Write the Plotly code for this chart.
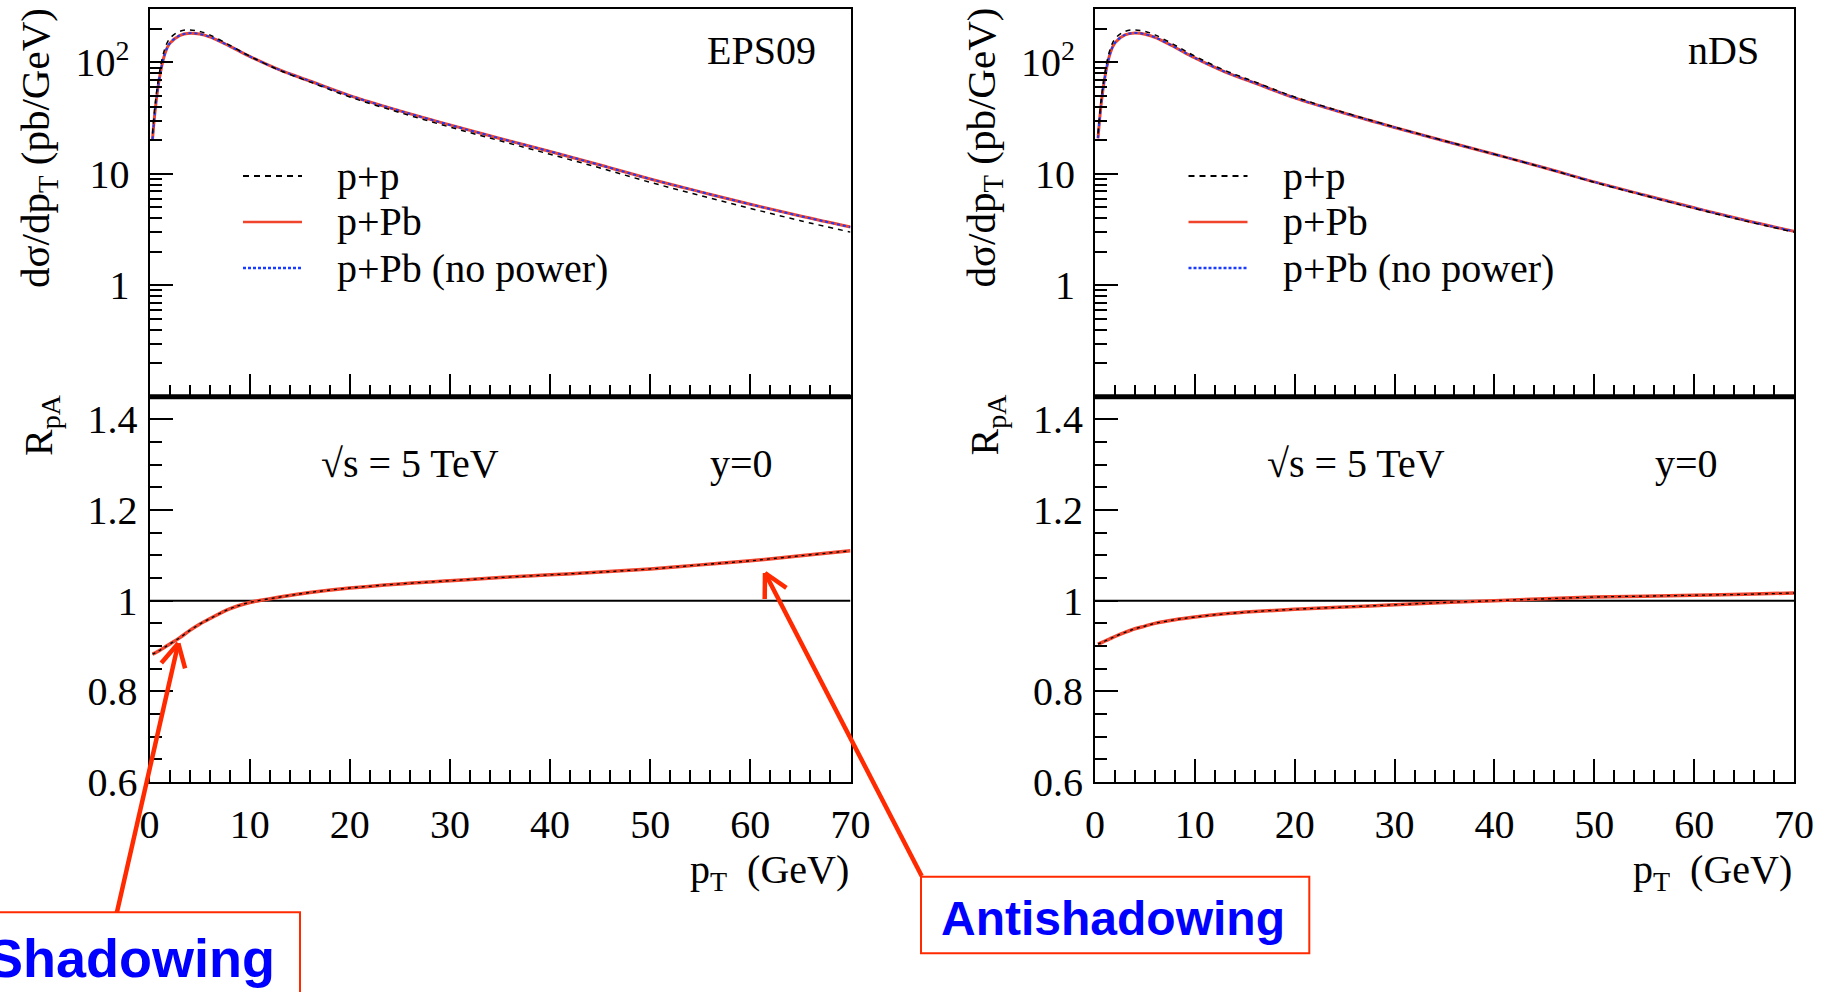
import math
import plotly.graph_objects as go

# ---------------- data ----------------
pt = [0.3, 0.6, 1.0, 1.5, 2, 3, 4, 5, 6, 8, 10, 13, 16, 20, 25, 30, 35, 40, 45, 50, 55, 60, 65, 70]

pp = [23, 45, 82, 130, 163, 190, 196, 190, 177, 143, 114, 85, 67, 49, 35.5, 26.3,
      19.8, 15.0, 11.3, 8.4, 6.4, 4.9, 3.8, 3.0]

ppb_eps09 = [20.3, 39.8, 73.0, 116.6, 147.4, 174.4, 183.1, 180.1, 169.9, 140.4, 113.5, 85.7,
             68.2, 50.4, 36.8, 27.5, 20.8, 15.9, 12.0, 9.0, 6.9, 5.33, 4.18, 3.33]
ppb_eps09_nopow = [20.4, 39.9, 73.1, 116.7, 147.5, 174.5, 183.2, 180.1, 169.9, 140.4, 113.5, 85.7,
                   68.2, 50.4, 36.8, 27.5, 20.8, 15.9, 12.0, 9.0, 6.9, 5.33, 4.18, 3.33]
ppb_nds = [20.8, 40.8, 74.7, 119.1, 150.1, 176.7, 183.8, 179.4, 168.2, 137.0, 109.9, 82.5,
           65.4, 48.1, 35.0, 26.1, 19.7, 15.0, 11.35, 8.47, 6.46, 4.96, 3.85, 3.05]
ppb_nds_nopow = [20.9, 40.9, 74.8, 119.2, 150.2, 176.7, 183.8, 179.4, 168.2, 137.0, 109.9, 82.5,
                 65.4, 48.1, 35.0, 26.1, 19.7, 15.0, 11.35, 8.47, 6.46, 4.96, 3.85, 3.05]

r_eps09 = [0.882, 0.885, 0.890, 0.897, 0.904, 0.918, 0.934, 0.948, 0.960, 0.982, 0.996, 1.008,
           1.018, 1.028, 1.037, 1.044, 1.051, 1.057, 1.063, 1.070, 1.079, 1.088, 1.099, 1.110]
r_nds = [0.904, 0.907, 0.911, 0.916, 0.921, 0.930, 0.938, 0.944, 0.950, 0.958, 0.964, 0.971,
         0.976, 0.981, 0.986, 0.991, 0.996, 1.000, 1.004, 1.008, 1.010, 1.012, 1.014, 1.017]

x_ticks = [0, 10, 20, 30, 40, 50, 60, 70]
x_ticktext = ["0", "10", "20", "30", "40", "50", "60", "70"]
logy_ticks = [1, 10, 100]
logy_ticktext = ["1", "10", "10<sup>2</sup>"]
logy_minor = [0.2, 0.3, 0.4, 0.5, 0.6, 0.7, 0.8, 0.9, 2, 3, 4, 5, 6, 7, 8, 9,
              20, 30, 40, 50, 60, 70, 80, 90, 200, 300]
r_ticks = [0.6, 0.8, 1.0, 1.2, 1.4]
r_ticktext = ["0.6", "0.8", "1", "1.2", "1.4"]

legend_labels = ["p+p", "p+Pb", "p+Pb (no power)"]
panel_names = ["EPS09", "nDS"]

# ---------------- layout geometry ----------------
W, H = 1835, 992
SERIF = "Liberation Serif"
FS = 40
RED = "#f0442c"
BLUE = "#1a3cff"
ARROW = "#ff2a00"


def fx(p):
    return p / W


def fy(p):
    return 1 - p / H


panels_x = [(149.5, 850.5), (1095.0, 1794.0)]
Y_TOP, Y_MID, Y_BOT = 9.3, 396.7, 782.0

fig = go.Figure()

series_up = [(ppb_eps09, ppb_eps09_nopow), (ppb_nds, ppb_nds_nopow)]
series_r = [r_eps09, r_nds]

layout = dict(
    width=W, height=H, autosize=False,
    margin=dict(l=0, r=0, t=0, b=0, pad=0, autoexpand=False),
    paper_bgcolor="white", plot_bgcolor="white",
    showlegend=False,
    font=dict(family=SERIF, size=FS, color="black"),
)

annotations = []
shapes = []

for i in range(2):
    x0p, x1p = panels_x[i]
    xa_up = "xaxis" if i == 0 else "xaxis3"
    ya_up = "yaxis" if i == 0 else "yaxis3"
    xa_lo = "xaxis2" if i == 0 else "xaxis4"
    ya_lo = "yaxis2" if i == 0 else "yaxis4"
    xr_up, yr_up = ("x", "y") if i == 0 else ("x3", "y3")
    xr_lo, yr_lo = ("x2", "y2") if i == 0 else ("x4", "y4")

    common_x = dict(
        domain=[fx(x0p), fx(x1p)], range=[0, 70], automargin=False,
        tickmode="array", tickvals=x_ticks, ticktext=x_ticktext,
        ticks="inside", ticklen=23, tickwidth=2, tickcolor="black",
        minor=dict(dtick=2, tick0=0, ticks="inside", ticklen=12, tickwidth=2,
                   tickcolor="black", showgrid=False),
        showline=True, linewidth=2, linecolor="black", mirror=True,
        showgrid=False, zeroline=False,
        tickfont=dict(family=SERIF, size=FS, color="black"),
    )
    layout[xa_up] = dict(common_x, anchor=yr_up, showticklabels=False)
    layout[xa_lo] = dict(common_x, anchor=yr_lo, showticklabels=True,
                         ticklabelstandoff=6)

    layout[ya_up] = dict(
        domain=[fy(Y_MID), fy(Y_TOP)], type="log", range=[-1, 2.4771], automargin=False,
        anchor=xr_up, tickmode="array", tickvals=logy_ticks, ticktext=logy_ticktext,
        ticks="inside", ticklen=23, tickwidth=2, tickcolor="black",
        minor=dict(tickmode="array", tickvals=logy_minor, ticks="inside", ticklen=12,
                   tickwidth=2, tickcolor="black", showgrid=False),
        showline=True, linewidth=2, linecolor="black", mirror=True,
        showgrid=False, zeroline=False, ticklabelstandoff=10,
        tickfont=dict(family=SERIF, size=FS, color="black"),
    )
    layout[ya_lo] = dict(
        domain=[fy(Y_BOT), fy(Y_MID)], range=[0.6, 1.45], automargin=False,
        anchor=xr_lo, tickmode="array", tickvals=r_ticks, ticktext=r_ticktext,
        ticks="inside", ticklen=23, tickwidth=2, tickcolor="black",
        minor=dict(dtick=0.05, tick0=0.6, ticks="inside", ticklen=12, tickwidth=2,
                   tickcolor="black", showgrid=False),
        showline=True, linewidth=2, linecolor="black", mirror=True,
        showgrid=False, zeroline=False, ticklabelstandoff=2,
        tickfont=dict(family=SERIF, size=FS, color="black"),
    )

    ppb, ppb_np = series_up[i]
    fig.add_trace(go.Scatter(x=pt, y=ppb, mode="lines", xaxis=xr_up, yaxis=yr_up,
                             line=dict(color=RED, width=3, shape="spline")))
    fig.add_trace(go.Scatter(x=pt, y=ppb_np, mode="lines", xaxis=xr_up, yaxis=yr_up,
                             line=dict(color=BLUE, width=2, dash="3px,3px", shape="spline")))
    fig.add_trace(go.Scatter(x=pt, y=pp, mode="lines", xaxis=xr_up, yaxis=yr_up,
                             line=dict(color="black", width=1.5, dash="5px,5px", shape="spline")))

    r = series_r[i]
    fig.add_trace(go.Scatter(x=pt, y=r, mode="lines", xaxis=xr_lo, yaxis=yr_lo,
                             line=dict(color=RED, width=3.5, shape="spline")))
    fig.add_trace(go.Scatter(x=pt, y=r, mode="lines", xaxis=xr_lo, yaxis=yr_lo,
                             line=dict(color="black", width=1.3, dash="3px,4px", shape="spline")))

    # R = 1 reference line
    shapes.append(dict(type="line", xref=xr_lo, yref=yr_lo, x0=0, x1=70, y0=1, y1=1,
                       line=dict(color="black", width=2), layer="below"))
    # thick divider between pads
    shapes.append(dict(type="line", xref="paper", yref="paper", x0=fx(x0p), x1=fx(x1p),
                       y0=fy(Y_MID), y1=fy(Y_MID), line=dict(color="black", width=5)))

    off = x0p - panels_x[0][0]
    # axis titles
    annotations.append(dict(text="dσ/dp<sub>T</sub> (pb/GeV)", xref="paper", yref="paper",
                            x=fx(38 + off), y=fy(148), textangle=-90, showarrow=False,
                            xanchor="center", yanchor="middle",
                            font=dict(family=SERIF, size=FS + 1, color="black")))
    annotations.append(dict(text="R<sub>pA</sub>", xref="paper", yref="paper",
                            x=fx(41 + off), y=fy(425), textangle=-90, showarrow=False,
                            xanchor="center", yanchor="middle",
                            font=dict(family=SERIF, size=FS, color="black")))
    annotations.append(dict(text="p<sub>T</sub>  (GeV)", xref="paper", yref="paper",
                            x=fx(x1p), y=fy(872), showarrow=False,
                            xanchor="right", yanchor="middle",
                            font=dict(family=SERIF, size=FS, color="black")))
    # panel labels
    annotations.append(dict(text=panel_names[i], xref="paper", yref="paper",
                            x=fx(x1p - 33), y=fy(50), showarrow=False,
                            xanchor="right", yanchor="middle",
                            font=dict(family=SERIF, size=FS, color="black")))
    annotations.append(dict(text="√s = 5 TeV", xref="paper", yref="paper",
                            x=fx(410 + off), y=fy(463), showarrow=False,
                            xanchor="center", yanchor="middle",
                            font=dict(family=SERIF, size=FS, color="black")))
    annotations.append(dict(text="y=0", xref="paper", yref="paper",
                            x=fx(741 + off), y=fy(463), showarrow=False,
                            xanchor="center", yanchor="middle",
                            font=dict(family=SERIF, size=FS, color="black")))
    # legend (drawn by hand, inside the upper pad)
    leg_rows = [176, 222, 268]
    leg_styles = [dict(color="black", width=2, dash="6px,5px"),
                  dict(color=RED, width=2.5),
                  dict(color=BLUE, width=2.5, dash="3px,2px")]
    for lab, yy, st in zip(legend_labels, leg_rows, leg_styles):
        shapes.append(dict(type="line", xref="paper", yref="paper",
                           x0=fx(243 + off), x1=fx(302 + off), y0=fy(yy), y1=fy(yy),
                           line=st))
        annotations.append(dict(text=lab, xref="paper", yref="paper",
                                x=fx(335 + off), y=fy(yy), showarrow=False,
                                xanchor="left", yanchor="middle",
                                font=dict(family=SERIF, size=FS, color="black")))

# ---------------- call-out boxes and arrows ----------------


def arrow(tail, tip, head_len=26, head_ang=28):
    out = [dict(type="line", xref="paper", yref="paper",
                x0=fx(tail[0]), y0=fy(tail[1]), x1=fx(tip[0]), y1=fy(tip[1]),
                line=dict(color=ARROW, width=4.5))]
    dx, dy = tail[0] - tip[0], tail[1] - tip[1]
    n = math.hypot(dx, dy)
    ux, uy = dx / n, dy / n
    for s in (-1, 1):
        a = math.radians(head_ang * s)
        vx = ux * math.cos(a) - uy * math.sin(a)
        vy = ux * math.sin(a) + uy * math.cos(a)
        out.append(dict(type="line", xref="paper", yref="paper",
                        x0=fx(tip[0]), y0=fy(tip[1]),
                        x1=fx(tip[0] + head_len * vx), y1=fy(tip[1] + head_len * vy),
                        line=dict(color=ARROW, width=4.5)))
    return out


shapes += arrow((116.7, 913.3), (178.3, 643.3))
shapes += arrow((921.7, 876.0), (765.0, 573.0))

shapes.append(dict(type="rect", xref="paper", yref="paper",
                   x0=fx(-5), x1=fx(300), y0=fy(1000), y1=fy(912.3),
                   line=dict(color=ARROW, width=2), fillcolor="white"))
shapes.append(dict(type="rect", xref="paper", yref="paper",
                   x0=fx(921), x1=fx(1309.3), y0=fy(953.3), y1=fy(876.7),
                   line=dict(color=ARROW, width=2), fillcolor="white"))

annotations.append(dict(text="<b>Shadowing</b>", xref="paper", yref="paper",
                        x=fx(277), y=fy(958), showarrow=False,
                        xanchor="right", yanchor="middle",
                        font=dict(family="Liberation Sans", size=54, color="#0000ff")))
annotations.append(dict(text="<b>Antishadowing</b>", xref="paper", yref="paper",
                        x=fx(1113), y=fy(918), showarrow=False,
                        xanchor="center", yanchor="middle",
                        font=dict(family="Liberation Sans", size=48, color="#0000ff")))

layout["annotations"] = annotations
layout["shapes"] = shapes
fig.update_layout(**layout)

fig.write_html("out.html")
